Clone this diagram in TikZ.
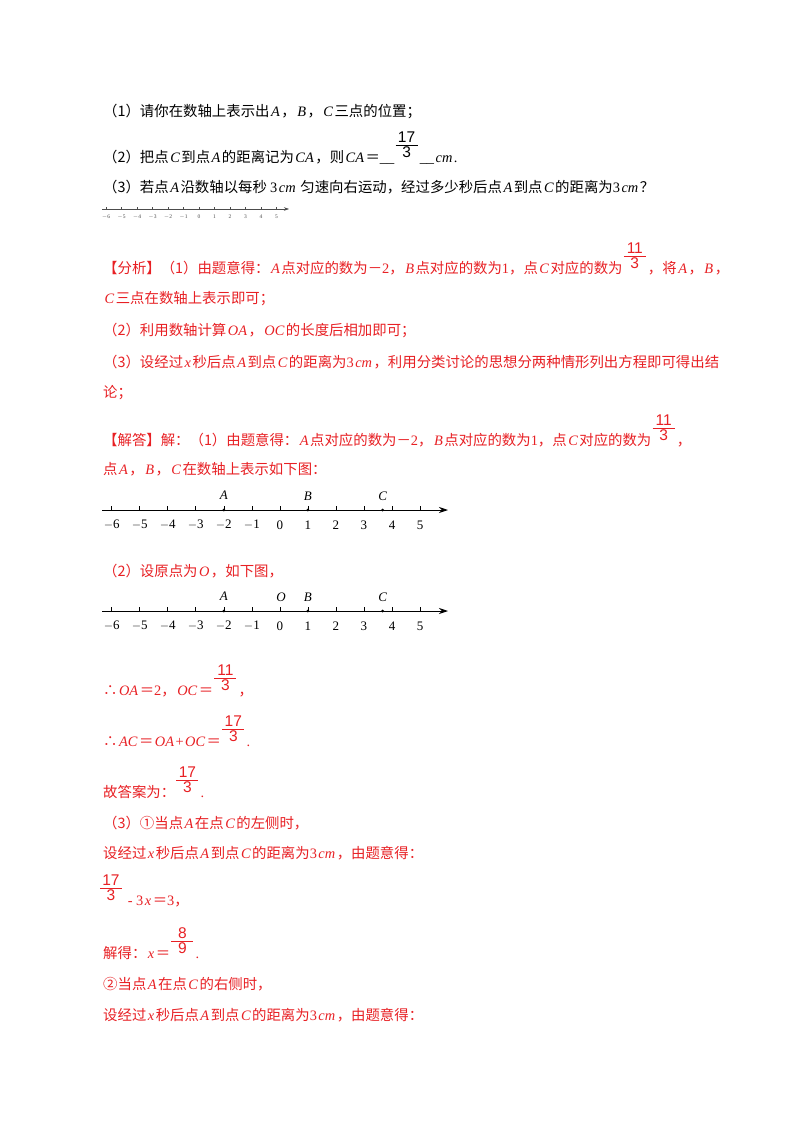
\documentclass[tikz,border=0pt]{standalone}
\usepackage{fontspec}
\setmainfont{Noto Sans CJK SC}
\newfontfamily\lser{Liberation Serif}
\newfontfamily\lsan{Liberation Sans}
\usetikzlibrary{arrows.meta}
\newcommand\I[1]{\hspace{1.5pt}{\lser\itshape #1}\hspace{1.5pt}}
\newcommand\R[1]{{\lser #1}}
\definecolor{redt}{RGB}{232,32,36}
\tikzset{txt/.style={anchor=base west,inner sep=0pt,font=\fontsize{14.4}{18}\selectfont},
 fnum/.style={inner sep=0pt,font=\lsan\fontsize{15.5}{17}\selectfont},
 tk/.style={font=\lser\fontsize{13}{15}\selectfont,inner sep=0pt},
 tki/.style={font=\lser\itshape\fontsize{13}{15}\selectfont,inner sep=0pt}}
% \frc{anchor coord}{num}{den}{color}{text after}
\newcommand\frc[5]{%
 \begin{scope}[shift={#1}]
 \node[fnum,text=#4,anchor=south] at (12,-19) {#2};
 \draw[#4,line width=0.9pt] (1,-17) -- (23,-17);
 \node[fnum,text=#4,anchor=north] at (12,-16) {#3};
 \node[txt,text=#4] at (25,0) {#5};
 \end{scope}}
% number line
\newcommand\nline[2]{%
 \draw[line width=0.9pt,-{Stealth[length=9pt,width=6pt]}] (102,#1) -- (448,#1);
 \foreach \k [count=\i from 0] in {-6,...,5}{
   \draw[line width=0.6pt] (111.7+28.03*\i,#1) -- (111.7+28.03*\i,#1-4);
   \node[tk] at (111.7+28.03*\i,#1+15) {\ifnum\k<0 $-$\the\numexpr-\k\relax\else\k\fi};}
 \fill (223.8,#1) circle (1.5);
 \fill (307.8,#1) circle (1.5);
 \fill (382.6,#1) circle (1.5);
 \node[tki] at (223.8,#1-15) {A};
 \node[tki] at (307.8,#1-14) {B};
 \node[tki] at (382.6,#1-14) {C};
 #2}
\begin{document}
\begin{tikzpicture}[x=1pt,y=-1pt]
\useasboundingbox[fill=white] (0,0) rectangle (800,1132);
\node[txt] (l1) at (103,116) {（1）请你在数轴上表示出\I{A}，\I{B}，\I{C}三点的位置；};
\node[txt] (l2) at (103,162) {（2）把点\I{C}到点\I{A}的距离记为\I{CA}，则\I{CA}＝\R{\_\_}};
\frc{(l2.base east)}{17}{3}{black}{\R{\_\_}\I{cm}\R{.}}
\node[txt] (l3) at (103,192) {（3）若点\I{A}沿数轴以每秒 \R{3}\I{cm} 匀速向右运动，经过多少秒后点\I{A}到点\I{C}的距离为\R{3}\I{cm}？};
\begin{scope}[gray!60!black]
\draw[line width=0.5pt,-{Stealth[length=5pt,width=3.5pt]}] (102,209) -- (289,209);
\foreach \k [count=\i from 0] in {-6,...,5}{
  \draw[line width=0.4pt] (106+15.5*\i,209) -- (106+15.5*\i,206.5);
  \node[inner sep=0pt,font=\lser\fontsize{5.5}{6}\selectfont] at (106+15.5*\i,217) {\ifnum\k<0 $-$\the\numexpr-\k\relax\else\k\fi};}
\end{scope}
\node[txt,text=redt] (a1) at (103,273) {【分析】（1）由题意得：\I{A}点对应的数为－\R{2}，\I{B}点对应的数为\R{1}，点\I{C}对应的数为};
\frc{(a1.base east)}{11}{3}{redt}{，将\I{A}，\I{B}，}
\node[txt,text=redt] at (103,303) {\I{C}三点在数轴上表示即可；};
\node[txt,text=redt] at (103,335) {（2）利用数轴计算\I{OA}，\I{OC}的长度后相加即可；};
\node[txt,text=redt] at (103,367) {（3）设经过\I{x}秒后点\I{A}到点\I{C}的距离为\R{3}\I{cm}，利用分类讨论的思想分两种情形列出方程即可得出结};
\node[txt,text=redt] at (103,397) {论；};
\node[txt,text=redt] (j1) at (103,445) {【解答】解：（1）由题意得：\I{A}点对应的数为－\R{2}，\I{B}点对应的数为\R{1}，点\I{C}对应的数为};
\frc{(j1.base east)}{11}{3}{redt}{，}
\node[txt,text=redt] at (103,474) {点\I{A}，\I{B}，\I{C}在数轴上表示如下图：};
\node[txt,text=redt] at (103,576) {（2）设原点为\I{O}，如下图，};
\nline{510}{}
\nline{611}{\node[tki] at (281,597) {O};}
\node[txt,text=redt] (e1) at (103,695) {∴\I{OA}＝\R{2}，\I{OC}＝};
\frc{(e1.base east)}{11}{3}{redt}{，}
\node[txt,text=redt] (e2) at (103,746) {∴\I{AC}＝\I{OA}\R{+}\I{OC}＝};
\frc{(e2.base east)}{17}{3}{redt}{\R{.}}
\node[txt,text=redt] (e3) at (103,797) {故答案为：};
\frc{(e3.base east)}{17}{3}{redt}{\R{.}}
\node[txt,text=redt] at (103,828) {（3）①当点\I{A}在点\I{C}的左侧时，};
\node[txt,text=redt] at (103,858) {设经过\I{x}秒后点\I{A}到点\I{C}的距离为\R{3}\I{cm}，由题意得：};
\coordinate (e4) at (99,905);
\frc{(e4)}{17}{3}{redt}{\R{ - 3}\I{x}＝\R{3}，}
\node[txt,text=redt] (e5) at (103,958) {解得：\I{x}＝};
\frc{(e5.base east)}{8}{9}{redt}{\R{.}}
\node[txt,text=redt] at (103,989) {②当点\I{A}在点\I{C}的右侧时，};
\node[txt,text=redt] at (103,1020) {设经过\I{x}秒后点\I{A}到点\I{C}的距离为\R{3}\I{cm}，由题意得：};
\end{tikzpicture}
\end{document}
